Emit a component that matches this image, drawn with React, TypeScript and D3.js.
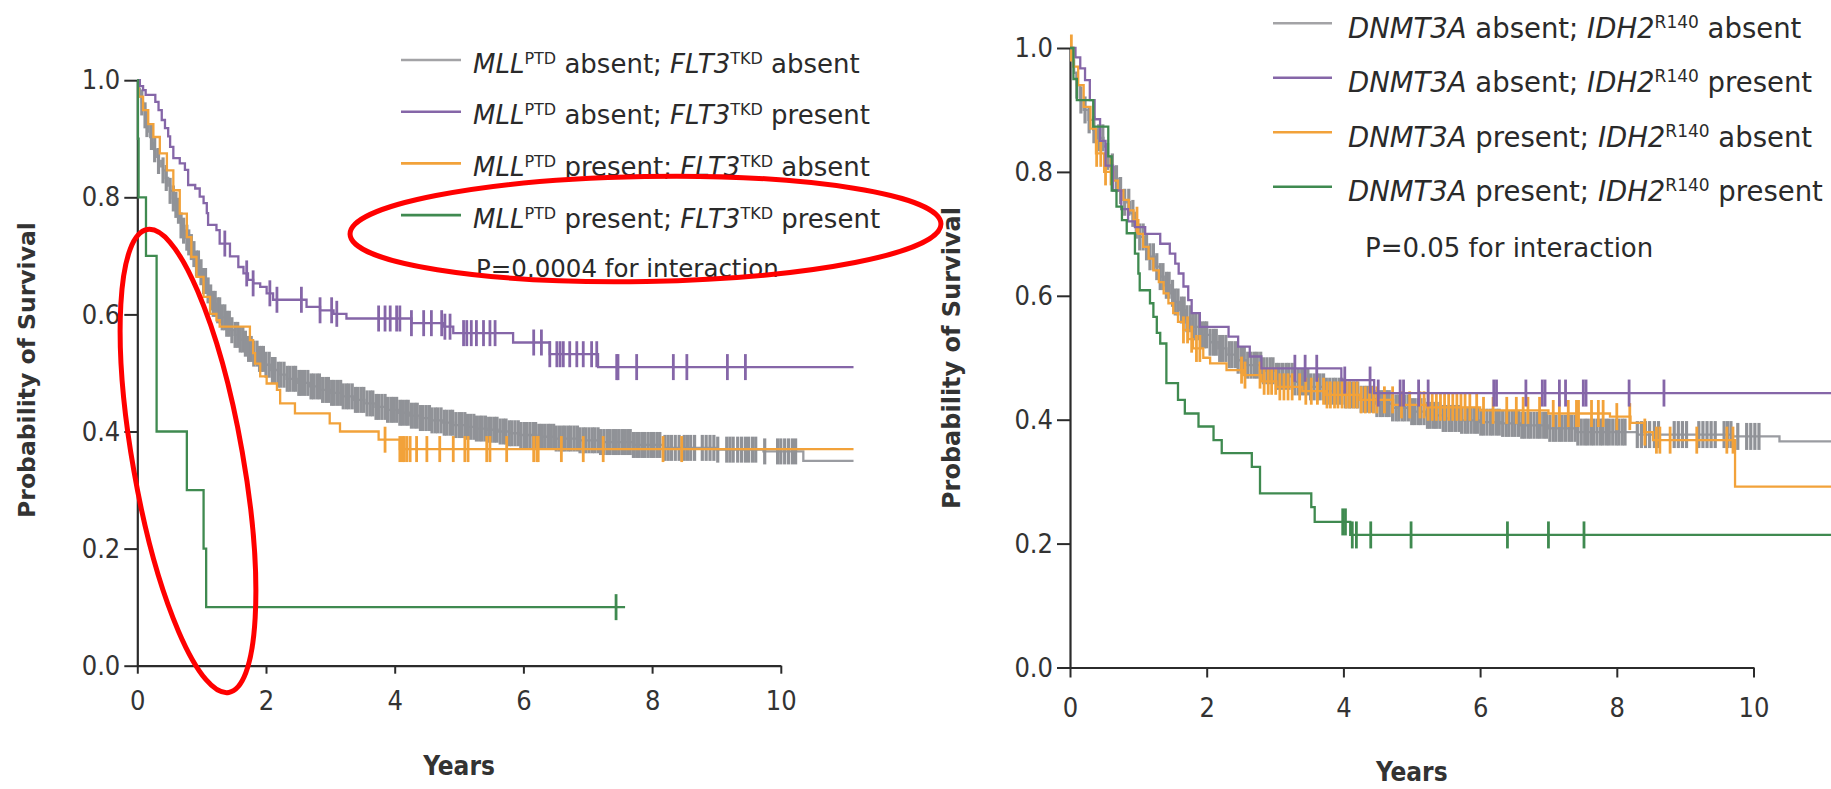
import React, { useEffect, useRef } from 'react';
import * as d3 from 'd3';

type Pt = [number, number];

// ---------- Left panel: MLL-PTD x FLT3-TKD (years, survival) ----------
const leftGray: Pt[] = [
  [0, 1], [0.02, 0.985], [0.04, 0.972], [0.07, 0.962], [0.09, 0.955], [0.12, 0.94], [0.15, 0.925],
  [0.18, 0.912], [0.2, 0.903], [0.23, 0.893], [0.26, 0.882], [0.3, 0.869], [0.33, 0.862], [0.37, 0.853],
  [0.4, 0.846], [0.44, 0.833], [0.48, 0.82], [0.51, 0.811], [0.55, 0.798], [0.58, 0.787], [0.61, 0.777],
  [0.65, 0.763], [0.68, 0.752], [0.71, 0.743], [0.75, 0.731], [0.78, 0.723], [0.82, 0.715], [0.86, 0.703],
  [0.89, 0.695], [0.92, 0.687], [0.97, 0.672], [1.02, 0.657], [1.08, 0.641], [1.13, 0.629], [1.18, 0.618],
  [1.23, 0.607], [1.3, 0.595], [1.37, 0.584], [1.44, 0.573], [1.51, 0.565], [1.58, 0.557], [1.65, 0.55],
  [1.72, 0.541], [1.8, 0.533], [1.88, 0.524], [1.97, 0.514], [2.06, 0.505], [2.19, 0.497], [2.32, 0.49],
  [2.5, 0.483], [2.67, 0.477], [2.84, 0.471], [3.0, 0.466], [3.18, 0.46], [3.36, 0.454], [3.53, 0.448],
  [3.7, 0.442], [3.87, 0.437], [4.05, 0.432], [4.22, 0.427], [4.39, 0.423], [4.56, 0.419], [4.74, 0.415],
  [4.91, 0.411], [5.1, 0.408], [5.26, 0.405], [5.43, 0.403], [5.6, 0.4], [5.78, 0.397], [5.95, 0.394],
  [6.2, 0.391], [6.5, 0.388], [6.85, 0.385], [7.2, 0.382], [7.7, 0.377], [8.17, 0.372], [9.0, 0.369],
  [9.73, 0.366], [10.35, 0.35],
];
const leftPurple: Pt[] = [
  [0, 1], [0.04, 0.99], [0.09, 0.983], [0.13, 0.975], [0.28, 0.963], [0.33, 0.949], [0.38, 0.932],
  [0.43, 0.918], [0.48, 0.904], [0.51, 0.886], [0.56, 0.867], [0.66, 0.858], [0.74, 0.847], [0.79, 0.821],
  [0.9, 0.815], [0.97, 0.801], [1.03, 0.79], [1.08, 0.773], [1.1, 0.753], [1.23, 0.744], [1.28, 0.721],
  [1.44, 0.699], [1.57, 0.681], [1.65, 0.67], [1.72, 0.659], [1.8, 0.653], [1.91, 0.647], [2.01, 0.636],
  [2.11, 0.625], [2.63, 0.613], [2.84, 0.607], [3.05, 0.601], [3.25, 0.593], [4.26, 0.585], [4.76, 0.579],
  [4.91, 0.568], [5.84, 0.552], [6.41, 0.532], [7.16, 0.51],
];
const leftOrange: Pt[] = [
  [0, 1], [0.02, 0.972], [0.09, 0.949], [0.17, 0.925], [0.25, 0.903], [0.35, 0.875], [0.46, 0.846],
  [0.56, 0.812], [0.66, 0.772], [0.77, 0.732], [0.84, 0.698], [0.92, 0.664], [1.03, 0.63], [1.13, 0.601],
  [1.23, 0.59], [1.28, 0.579], [1.75, 0.556], [1.8, 0.534], [1.83, 0.516], [1.91, 0.494], [2.01, 0.482],
  [2.17, 0.471], [2.22, 0.448], [2.45, 0.431], [2.99, 0.414], [3.15, 0.4], [3.75, 0.386], [4.08, 0.37],
];
const leftGreen: Pt[] = [
  [0, 1], [0.01, 0.9], [0.02, 0.8], [0.135, 0.7], [0.3, 0.4], [0.77, 0.3], [1.03, 0.2], [1.07, 0.1],
];
const leftGrayCensor = [
  0.07, 0.12, 0.15, 0.22, 0.27, 0.33, 0.4, 0.45, 0.51, 0.56, 0.6, 0.64, 0.68, 0.72, 0.77, 0.8, 0.84, 0.88,
  0.92, 0.95, 0.99, 1.03, 1.06, 1.1, 1.14, 1.18, 1.21, 1.25, 1.28, 1.32, 1.36, 1.39, 1.43, 1.47, 1.52, 1.56,
  1.6, 1.64, 1.68, 1.73, 1.77, 1.81, 1.86, 1.9, 1.93, 1.96,
  2.0, 2.05, 2.1, 2.14, 2.19, 2.23, 2.28, 2.33, 2.37, 2.42, 2.46, 2.51, 2.55, 2.6, 2.65, 2.7, 2.74, 2.79,
  2.83, 2.88, 2.93, 2.97, 3.02, 3.06, 3.11, 3.16, 3.2, 3.25, 3.29, 3.34, 3.39, 3.43, 3.48, 3.52, 3.57, 3.62,
  3.66, 3.71, 3.75, 3.8, 3.85, 3.89, 3.94, 3.98, 4.03, 4.08, 4.12, 4.17, 4.21, 4.26, 4.31, 4.35, 4.4, 4.44,
  4.49, 4.54, 4.58, 4.63, 4.67, 4.72, 4.77, 4.81, 4.86, 4.9, 4.95, 5.0, 5.04, 5.09, 5.13, 5.18, 5.23, 5.27,
  5.32, 5.36, 5.41, 5.46, 5.5, 5.55, 5.59, 5.64, 5.69, 5.73, 5.78, 5.82, 5.87, 5.92, 5.96, 6.01, 6.05, 6.1,
  6.15, 6.19, 6.24, 6.28, 6.33, 6.38, 6.42, 6.47, 6.51, 6.56, 6.61, 6.65, 6.7, 6.74, 6.79, 6.84, 6.88, 6.93,
  6.97, 7.02, 7.07, 7.11, 7.16, 7.2, 7.25, 7.3, 7.34, 7.39, 7.43, 7.48, 7.53, 7.57, 7.62, 7.66, 7.71, 7.76,
  7.8, 7.85, 7.89, 7.94, 7.99, 8.03, 8.08, 8.12,
  8.2, 8.25, 8.3, 8.36, 8.42, 8.5, 8.55, 8.6, 8.66, 8.78, 8.84, 8.9, 8.96, 9.02, 9.16, 9.21, 9.26,
  9.33, 9.39, 9.45, 9.5, 9.56, 9.61, 9.75, 9.95, 10.0, 10.06, 10.12, 10.18, 10.23,
];
const leftPurpleCensor = [
  1.36, 1.7, 1.8, 2.06, 2.17, 2.55, 2.84, 3.02, 3.1, 3.75, 3.85, 3.93, 4.03, 4.08, 4.26, 4.45, 4.57, 4.73,
  4.78, 4.86, 5.07, 5.12, 5.19, 5.27, 5.38, 5.48, 5.56, 6.16, 6.28, 6.41, 6.52, 6.57, 6.62, 6.72, 6.83,
  6.93, 7.06, 7.14, 7.45, 7.47, 7.76, 8.33, 8.54, 9.17, 9.45,
];
const leftOrangeCensor = [
  3.85, 4.08, 4.12, 4.15, 4.19, 4.24, 4.34, 4.5, 4.7, 4.91, 5.09, 5.14, 5.43, 5.48, 5.74, 6.16, 6.21,
  6.23, 6.59, 6.93, 7.24, 8.17, 8.46,
];
const leftGreenCensor = [7.44];
const leftEnd = [11.13, 11.13, 11.13, 7.58];

// ---------- Right panel: DNMT3A x IDH2-R140 ----------
const rightGray: Pt[] = [
  [0, 1], [0.03, 0.98], [0.06, 0.96], [0.1, 0.94], [0.15, 0.916], [0.2, 0.9], [0.27, 0.884], [0.34, 0.868],
  [0.41, 0.855], [0.49, 0.841], [0.54, 0.825], [0.59, 0.808], [0.66, 0.789], [0.73, 0.77], [0.8, 0.751],
  [0.88, 0.733], [0.95, 0.714], [1.02, 0.695], [1.1, 0.679], [1.17, 0.663], [1.25, 0.647], [1.32, 0.631],
  [1.39, 0.617], [1.46, 0.604], [1.53, 0.59], [1.61, 0.577], [1.7, 0.563], [1.8, 0.55], [1.92, 0.537],
  [2.05, 0.525], [2.17, 0.515], [2.29, 0.505], [2.43, 0.496], [2.58, 0.488], [2.8, 0.479], [3.02, 0.47],
  [3.26, 0.461], [3.51, 0.453], [3.75, 0.446], [3.99, 0.44], [4.24, 0.433], [4.48, 0.426], [4.72, 0.419],
  [4.97, 0.413], [5.2, 0.407], [5.46, 0.402], [5.73, 0.399], [6.0, 0.396], [6.3, 0.394], [6.6, 0.391],
  [7.0, 0.386], [7.4, 0.38], [8.3, 0.376], [9.7, 0.373], [10.38, 0.365],
];
const rightPurple: Pt[] = [
  [0, 1], [0.08, 0.985], [0.15, 0.967], [0.22, 0.948], [0.29, 0.916], [0.36, 0.885], [0.44, 0.85],
  [0.52, 0.81], [0.63, 0.77], [0.75, 0.74], [0.85, 0.72], [0.95, 0.711], [1.1, 0.7], [1.32, 0.684],
  [1.46, 0.668], [1.54, 0.652], [1.59, 0.636], [1.66, 0.615], [1.73, 0.593], [1.78, 0.572], [1.9, 0.55],
  [2.32, 0.534], [2.46, 0.518], [2.63, 0.502], [2.8, 0.483], [3.97, 0.464], [4.45, 0.443],
];
const rightOrange: Pt[] = [
  [0, 1], [0.05, 0.97], [0.12, 0.94], [0.2, 0.905], [0.3, 0.87], [0.38, 0.83], [0.5, 0.8], [0.63, 0.786],
  [0.7, 0.77], [0.78, 0.755], [0.86, 0.738], [0.93, 0.722], [1.0, 0.7], [1.07, 0.679], [1.15, 0.66],
  [1.22, 0.641], [1.3, 0.622], [1.37, 0.604], [1.44, 0.588], [1.51, 0.572], [1.58, 0.558], [1.66, 0.545],
  [1.73, 0.53], [1.8, 0.515], [1.95, 0.5], [2.05, 0.491], [2.29, 0.48], [2.54, 0.472], [2.8, 0.462],
  [3.02, 0.453], [3.4, 0.446], [3.75, 0.44], [4.24, 0.432], [4.73, 0.424], [5.22, 0.42], [6.0, 0.415],
  [7.0, 0.41], [7.9, 0.405], [8.2, 0.395], [8.4, 0.38], [8.53, 0.367], [9.73, 0.292],
];
const rightGreen: Pt[] = [
  [0, 1], [0.05, 0.95], [0.1, 0.916], [0.34, 0.873], [0.56, 0.825], [0.61, 0.77], [0.68, 0.744],
  [0.76, 0.722], [0.83, 0.701], [0.95, 0.668], [1.0, 0.636], [1.02, 0.609], [1.17, 0.588], [1.22, 0.566],
  [1.27, 0.54], [1.32, 0.523], [1.41, 0.459], [1.58, 0.432], [1.68, 0.41], [1.88, 0.389], [2.1, 0.367],
  [2.22, 0.346], [2.66, 0.324], [2.78, 0.281], [3.53, 0.259], [3.58, 0.235], [4.1, 0.214],
];
const rightGrayCensor = [
  0.1, 0.16, 0.22, 0.28, 0.35, 0.42, 0.48, 0.55, 0.62, 0.68, 0.74, 0.8, 0.86, 0.92, 0.97, 1.02, 1.07,
  1.12, 1.17, 1.22, 1.27, 1.32, 1.36, 1.41, 1.45, 1.5, 1.54, 1.58, 1.63, 1.67, 1.71, 1.76, 1.8, 1.84,
  1.89, 1.93, 1.97,
  2.0, 2.05, 2.1, 2.14, 2.19, 2.23, 2.28, 2.33, 2.37, 2.42, 2.46, 2.51, 2.55, 2.6, 2.65, 2.7, 2.74, 2.79,
  2.83, 2.88, 2.93, 2.97, 3.02, 3.06, 3.11, 3.16, 3.2, 3.25, 3.29, 3.34, 3.39, 3.43, 3.48, 3.52, 3.57, 3.62,
  3.66, 3.71, 3.75, 3.8, 3.85, 3.89, 3.94, 3.98, 4.03, 4.08, 4.12, 4.17, 4.21, 4.26, 4.31, 4.35, 4.4, 4.44,
  4.49, 4.54, 4.58, 4.63, 4.67, 4.72, 4.77, 4.81, 4.86, 4.9, 4.95, 5.0, 5.04, 5.09, 5.13, 5.18, 5.23, 5.27,
  5.32, 5.36, 5.41, 5.46, 5.5, 5.55, 5.59, 5.64, 5.69, 5.73, 5.78, 5.82, 5.87, 5.92, 5.96, 6.01, 6.05, 6.1,
  6.15, 6.19, 6.24, 6.28, 6.33, 6.38, 6.42, 6.47, 6.51, 6.56, 6.61, 6.65, 6.7, 6.74, 6.79, 6.84, 6.88, 6.93,
  6.97, 7.02, 7.07, 7.11, 7.16, 7.2, 7.25, 7.3, 7.34, 7.39, 7.43, 7.48, 7.53, 7.57, 7.62, 7.66, 7.71, 7.76,
  7.8, 7.85, 7.89, 7.94, 7.99, 8.03, 8.08, 8.12,
  8.3, 8.36, 8.42, 8.48, 8.55, 8.61, 8.84, 8.9, 8.96, 9.02, 9.2, 9.26, 9.32, 9.38, 9.44, 9.57, 9.62,
  9.67, 9.77, 9.9, 9.96, 10.02, 10.08,
];
const rightPurpleCensor = [
  3.29, 3.44, 3.61, 4.02, 4.39, 4.51, 4.83, 4.88, 5.1, 5.24, 6.2, 6.24, 6.67, 6.91, 6.95, 7.16, 7.25,
  7.51, 7.55, 8.18, 8.69,
];
const rightOrangeCensor = [
  0.02, 0.39, 0.45, 0.52, 0.6, 0.98, 1.66, 1.72, 1.78, 1.85, 1.9, 2.51, 2.56, 2.78, 2.84, 2.9, 2.95, 3.01,
  3.07, 3.13, 3.19, 3.25, 3.36, 3.45, 3.53, 3.62, 3.71, 3.76, 3.81, 3.87, 3.92, 3.98, 4.04, 4.09, 4.15,
  4.2, 4.26, 4.32, 4.38, 4.44, 4.49, 4.6, 4.72, 4.85, 4.97, 5.12, 5.18, 5.24, 5.3, 5.36, 5.42, 5.48, 5.54,
  5.6, 5.66, 5.72, 5.78, 5.85, 5.95, 6.05, 6.19, 6.39, 6.53, 6.63, 6.7, 6.87, 7.07, 7.16, 7.29, 7.41,
  7.44, 7.63, 7.73, 7.8, 8.0, 8.19, 8.41, 8.58, 8.63, 8.78, 9.17, 9.61, 9.7,
];
const rightGreenCensor = [3.99, 4.03, 4.13, 4.19, 4.4, 4.99, 6.4, 7.0, 7.52];
const rightEnd = [11.5, 11.5, 11.5, 11.5];

// ---------- shared labels ----------
const xTicks = [0, 2, 4, 6, 8, 10];
const yTicks = [0, 0.2, 0.4, 0.6, 0.8, 1.0];
const statusA = ['absent', 'absent', 'present', 'present'];
const statusB = ['absent', 'present', 'absent', 'present'];
const leftGenes = ['MLL', 'PTD', 'FLT3', 'TKD'];
const rightGenes = ['DNMT3A', '', 'IDH2', 'R140'];
const leftPText = 'P=0.0004 for interaction';
const rightPText = 'P=0.05 for interaction';

// gray, purple, orange, green
const colors = ['#9a9ca1', '#8566a8', '#f2a23a', '#3f8a50'];
const censorColors = ['#909297', '#8566a8', '#f2a23a', '#3f8a50'];
const legendColors = ['#a3a3a6', '#8566a8', '#f2a23a', '#3f8a50'];
const FONT = "'DejaVu Sans', sans-serif";

function survAt(pts: Pt[], t: number) {
  let p = 1;
  for (const [tt, pp] of pts) {
    if (tt <= t) p = pp;
    else break;
  }
  return p;
}

function drawPanel(svg: any, o: any) {
  const x = d3.scaleLinear().domain([0, 10]).range(o.xRange);
  const y = d3.scaleLinear().domain([0, 1]).range(o.yRange);
  const g = svg.append('g');

  // axes
  const ya = g.append('g')
    .attr('transform', 'translate(' + x(0) + ',0)')
    .call(d3.axisLeft(y).tickValues(yTicks).tickFormat(d3.format('.1f')).tickSize(13).tickSizeOuter(0).tickPadding(4));
  const xa = g.append('g')
    .attr('transform', 'translate(0,' + y(0) + ')')
    .call(d3.axisBottom(x).tickValues(xTicks).tickFormat(d3.format('d')).tickSize(o.xTickLen).tickSizeOuter(0).tickPadding(o.xPad));
  [ya, xa].forEach((a: any) => {
    a.attr('font-family', FONT).attr('font-size', o.tickFont);
    a.select('.domain').attr('stroke', '#2b2b2b').attr('stroke-width', 2.2);
    a.selectAll('.tick line').attr('stroke', '#2b2b2b').attr('stroke-width', 2);
    a.selectAll('.tick text').attr('fill', '#333').style('font-stretch', 'condensed');
  });

  // curves + censor marks (gray, orange, purple, green)
  const line = d3.line<Pt>().x(d => x(d[0])).y(d => y(d[1])).curve(d3.curveStepAfter);
  [0, 2, 1, 3].forEach(i => {
    const pts: Pt[] = o.curves[i];
    const data = pts.concat([[o.ends[i], pts[pts.length - 1][1]]]);
    g.append('path').attr('d', line(data)).attr('fill', 'none')
      .attr('stroke', colors[i]).attr('stroke-width', 2.3);
    g.append('g').selectAll('line').data(o.censors[i]).enter().append('line')
      .attr('x1', (t: number) => x(t)).attr('x2', (t: number) => x(t))
      .attr('y1', (t: number) => y(survAt(pts, t)) - o.censorH)
      .attr('y2', (t: number) => y(survAt(pts, t)) + o.censorH)
      .attr('stroke', censorColors[i]).attr('stroke-width', i === 0 ? 3.2 : 2.8);
  });

  // axis titles
  g.append('text')
    .attr('x', (x(0) + x(10)) / 2).attr('y', o.yearsY)
    .attr('text-anchor', 'middle').attr('font-family', FONT).attr('font-weight', 'bold')
    .style('font-stretch', 'condensed')
    .attr('font-size', o.yearsFont).attr('fill', '#333').text('Years');
  g.append('text')
    .attr('transform', 'translate(' + o.yTitle[0] + ',' + o.yTitle[1] + ') rotate(-90)')
    .attr('text-anchor', 'middle').attr('font-family', FONT).attr('font-weight', 'bold')
    .attr('font-size', o.titleFont).attr('fill', '#333').text('Probability of Survival');

  // legend
  const L = o.legend;
  for (let i = 0; i < 4; i++) {
    const ly = L.y0 + i * L.dy;
    g.append('line').attr('x1', L.x1).attr('x2', L.x2).attr('y1', ly).attr('y2', ly)
      .attr('stroke', legendColors[i]).attr('stroke-width', 2.6);
    const t = g.append('text').attr('x', L.tx).attr('y', ly + L.base)
      .attr('font-family', FONT).attr('font-size', L.font).attr('fill', '#2a2a2a')
      .style('white-space', 'pre');
    const [g1, s1, g2, s2] = o.genes;
    t.append('tspan').attr('font-style', 'italic').text(g1);
    if (s1) {
      t.append('tspan').attr('font-size', L.supFont).attr('dy', -L.supShift).text(s1);
      t.append('tspan').attr('dy', L.supShift).text(' ' + statusA[i] + '; ');
    } else {
      t.append('tspan').text(' ' + statusA[i] + '; ');
    }
    t.append('tspan').attr('font-style', 'italic').text(g2);
    t.append('tspan').attr('font-size', L.supFont).attr('dy', -L.supShift).text(s2);
    t.append('tspan').attr('dy', L.supShift).text(' ' + statusB[i]);
  }
  g.append('text').attr('x', L.px).attr('y', L.py)
    .attr('font-family', FONT).attr('font-size', L.pFont).attr('fill', '#2a2a2a').text(o.pText);
}

export default function App() {
  const ref = useRef<SVGSVGElement>(null);

  useEffect(() => {
    const svg = d3.select(ref.current);
    svg.selectAll('*').remove();

    drawPanel(svg, {
      xRange: [137.3, 780.8], yRange: [665.7, 80.2],
      curves: [leftGray, leftPurple, leftOrange, leftGreen],
      censors: [leftGrayCensor, leftPurpleCensor, leftOrangeCensor, leftGreenCensor],
      ends: leftEnd, censorH: 13, tickFont: 27, xTickLen: 8, xPad: 17,
      titleFont: 23.5, yearsFont: 26, yearsY: 775, yTitle: [35, 370],
      genes: leftGenes, pText: leftPText,
      legend: { x1: 401, x2: 461, tx: 473, y0: 60, dy: 51.7, base: 12.7, font: 26, supFont: 16, supShift: 9, px: 476, py: 276.7, pFont: 24.5 },
    });
    drawPanel(svg, {
      xRange: [1070, 1753.5], yRange: [667.5, 48],
      curves: [rightGray, rightPurple, rightOrange, rightGreen],
      censors: [rightGrayCensor, rightPurpleCensor, rightOrangeCensor, rightGreenCensor],
      ends: rightEnd, censorH: 13.5, tickFont: 27, xTickLen: 10, xPad: 20,
      titleFont: 24, yearsFont: 26, yearsY: 781, yTitle: [960, 358],
      genes: rightGenes, pText: rightPText,
      legend: { x1: 1273, x2: 1332, tx: 1348, y0: 23.3, dy: 54.5, base: 14.5, font: 27.5, supFont: 17, supShift: 10, px: 1365, py: 256.7, pFont: 26 },
    });

    // red hand-drawn highlight ellipses
    svg.append('ellipse').attr('cx', 188).attr('cy', 461).attr('rx', 55).attr('ry', 235)
      .attr('transform', 'rotate(-10,188,461)')
      .attr('fill', 'none').attr('stroke', '#ff0000').attr('stroke-width', 5);
    svg.append('ellipse').attr('cx', 645.5).attr('cy', 229).attr('rx', 295.5).attr('ry', 52.5)
      .attr('transform', 'rotate(-1,645.5,229)')
      .attr('fill', 'none').attr('stroke', '#ff0000').attr('stroke-width', 5);
  }, []);

  return (
    <svg ref={ref} width={1831} height={789}
      style={{ position: 'absolute', left: 0, top: 0, background: '#fff' }} />
  );
}
